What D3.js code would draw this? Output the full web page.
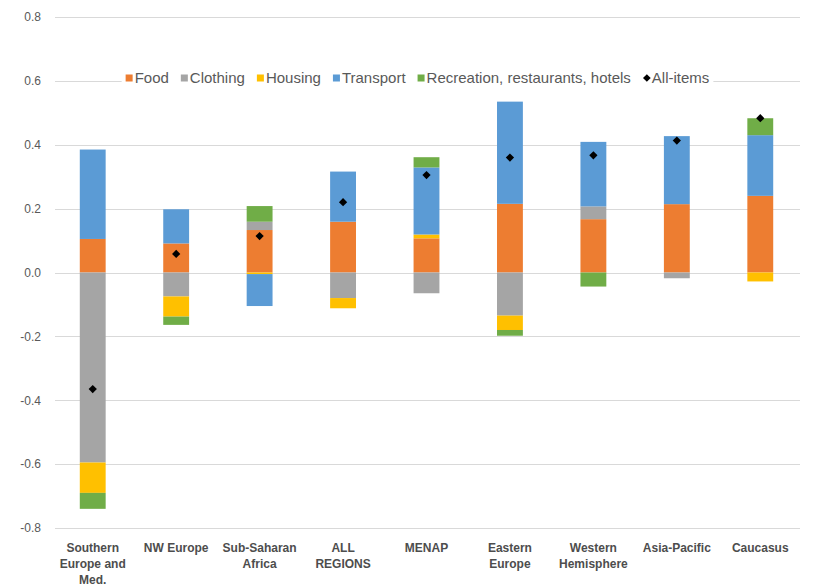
<!DOCTYPE html>
<html><head><meta charset="utf-8">
<script src="https://cdn.jsdelivr.net/npm/d3@7"></script>
<style>
html,body{margin:0;padding:0;background:#fff;}
svg{display:block;font-family:"Liberation Sans",Arial,sans-serif;}
</style></head>
<body><svg id="chart" width="814" height="588"></svg>
<script>
const categories = ["Southern\nEurope and\nMed.", "NW Europe", "Sub-Saharan\nAfrica", "ALL\nREGIONS", "MENAP", "Eastern\nEurope", "Western\nHemisphere", "Asia-Pacific", "Caucasus"];
const seriesNames = ["Food", "Clothing", "Housing", "Transport", "Recreation, restaurants, hotels"];
const food       = [0.105, 0.091, 0.133, 0.159, 0.107, 0.215, 0.167, 0.214, 0.240];
const clothing   = [-0.595, -0.075, 0.026, -0.080, -0.065, -0.135, 0.040, -0.018, 0.000];
const housing    = [-0.095, -0.063, -0.005, -0.032, 0.012, -0.045, 0.000, 0.000, -0.028];
const transport  = [0.280, 0.107, -0.100, 0.157, 0.210, 0.320, 0.202, 0.213, 0.190];
const recreation = [-0.050, -0.026, 0.049, 0.000, 0.032, -0.018, -0.044, 0.000, 0.053];
const allItems   = [-0.365, 0.058, 0.114, 0.220, 0.305, 0.360, 0.367, 0.413, 0.483];
const allItemsName = "All-items";
const yTicks = [-0.8, -0.6, -0.4, -0.2, 0.0, 0.2, 0.4, 0.6, 0.8];
const colors = ["#ED7D31", "#A5A5A5", "#FFC000", "#5B9BD5", "#70AD47"];

const svg = d3.select("#chart");
const seriesArrays = [food, clothing, housing, transport, recreation];
const rows = categories.map((c, i) => {
  const r = {cat: c};
  seriesNames.forEach((s, k) => r[s] = seriesArrays[k][i]);
  return r;
});

const x = d3.scaleBand().domain(categories).range([51, 802]).paddingInner(0.69).paddingOuter(0.345);
const y = d3.scaleLinear().domain([-0.8, 0.8]).range([528, 17]);

// gridlines
svg.append("g").selectAll("line").data(yTicks).join("line")
  .attr("x1", 55).attr("x2", 800)
  .attr("y1", d => Math.round(y(d)) + 0.5).attr("y2", d => Math.round(y(d)) + 0.5)
  .attr("stroke", "#d9d9d9").attr("stroke-width", 1);

// y axis labels
const fmt = d3.format(".1f");
const yAxis = d3.axisLeft(y).tickValues(yTicks).tickFormat(d => fmt(d).replace("\u2212", "-")).tickSize(0).tickPadding(0);
const gy = svg.append("g").attr("transform", "translate(41,0)").call(yAxis);
gy.select(".domain").remove();
gy.selectAll("text").attr("fill", "#595959").style("font-size", "12px").style("font-family", "'Liberation Sans',Arial,sans-serif");

// stacked bars
const stack = d3.stack().keys(seriesNames).offset(d3.stackOffsetDiverging);
const stacked = stack(rows);
svg.append("g").selectAll("g").data(stacked).join("g")
  .attr("fill", (d, i) => colors[i])
  .selectAll("rect").data(d => d).join("rect")
  .attr("x", d => x(d.data.cat))
  .attr("width", x.bandwidth())
  .attr("y", d => y(Math.max(d[0], d[1])))
  .attr("height", d => Math.abs(y(d[0]) - y(d[1])));

// all-items markers (diamonds)
svg.append("g").selectAll("path").data(allItems).join("path")
  .attr("transform", (d, i) => `translate(${x(categories[i]) + x.bandwidth() / 2},${y(d)}) rotate(45)`)
  .attr("d", d3.symbol().type(d3.symbolSquare).size(34))
  .attr("fill", "#000");

// x labels
const xl = svg.append("g");
categories.forEach(c => {
  const cxp = x(c) + x.bandwidth() / 2;
  const t = xl.append("text")
    .attr("x", cxp)
    .attr("y", 552)
    .attr("text-anchor", "middle")
    .attr("fill", "#4d4d4d")
    .style("font-size", "12px").style("font-weight", "bold");
  c.split("\n").forEach((ln, j) => {
    t.append("tspan").attr("x", cxp).attr("dy", j === 0 ? 0 : 16).text(ln);
  });
});

// legend
const leg = svg.append("g");
const legItems = seriesNames.map((n, i) => ({name: n, color: colors[i], type: "sq"})).concat([{name: allItemsName, color: "#000", type: "dia"}]);
const legY = 78;
const placed = [];
legItems.forEach(it => {
  const g = leg.append("g");
  if (it.type === "sq") {
    g.append("rect").attr("x", 0).attr("y", -3.5).attr("width", 7).attr("height", 7).attr("fill", it.color);
  } else {
    g.append("path").attr("transform", "translate(4,0) rotate(45)").attr("d", d3.symbol().type(d3.symbolSquare).size(30)).attr("fill", "#000");
  }
  const t = g.append("text").attr("x", 9).attr("y", 4.5).attr("fill", "#595959").style("font-size", "15px").text(it.name);
  const w = 9 + t.node().getComputedTextLength();
  placed.push({g, w});
});
const gap = 12;
const total = d3.sum(placed, p => p.w) + gap * (placed.length - 1);
let start = 417.5 - total / 2;
leg.insert("rect", ":first-child").attr("x", start - 4).attr("y", legY - 11).attr("width", total + 8).attr("height", 22).attr("fill", "#fff");
placed.forEach(p => {
  p.g.attr("transform", `translate(${start},${legY})`);
  start += p.w + gap;
});
</script></body></html>
